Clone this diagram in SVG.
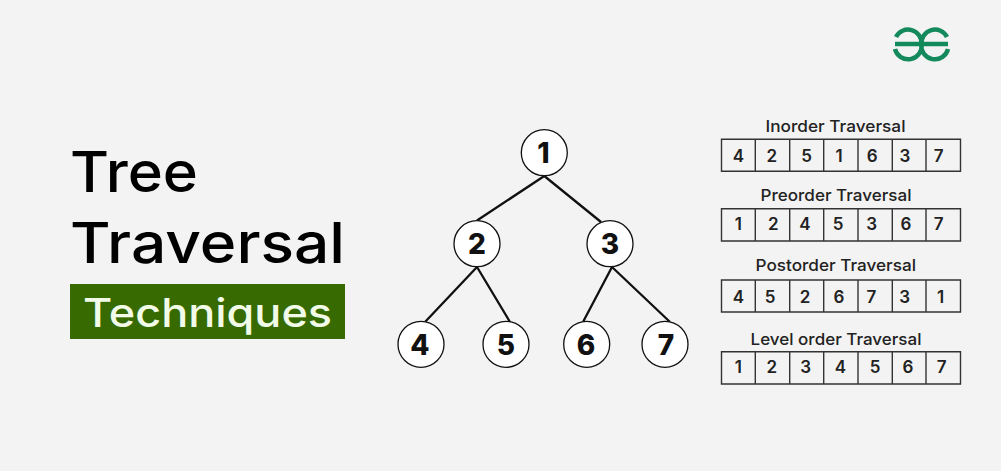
<svg xmlns="http://www.w3.org/2000/svg" width="1001" height="471" viewBox="0 0 1001 471">
<style>
.title{font-family:"Inter","Liberation Sans",sans-serif;font-weight:500;fill:#000}
.cap{font-family:"Inter","Liberation Sans",sans-serif;font-size:16.500px;font-weight:500;fill:#222}
.cell{fill:none;stroke:#333;stroke-width:1.400}
.val{font-family:"Inter","Liberation Sans",sans-serif;font-size:17px;font-weight:600;fill:#222;text-anchor:middle}
.node circle{fill:#fff;stroke:#111;stroke-width:1.300}
.node text{font-family:"Inter","Liberation Sans",sans-serif;font-size:28px;font-weight:800;fill:#111;text-anchor:middle}
.edge{stroke:#111;stroke-width:2.300;fill:none}
.logo{stroke:#148a5c;stroke-width:4.500;fill:none}
</style>
<rect width="1001" height="471" fill="#f3f3f3"/>
<g id="logo">
<path class="logo" d="M896 37A13.500 13.500 0 0 1 921.500 44A13.500 13.500 0 0 1 895 49M895 44H948M947 37A13.500 13.500 0 0 0 921.500 44A13.500 13.500 0 0 0 948 49"/>
</g>
<g id="title">
<text class="title" x="70" y="191.500" font-size="56" textLength="128" lengthAdjust="spacingAndGlyphs">Tree</text>
<text class="title" x="70" y="262.500" font-size="56" textLength="275" lengthAdjust="spacingAndGlyphs">Traversal</text>
<rect x="70" y="284" width="275" height="55" fill="#376a00"/>
<text x="83" y="327" font-family="Inter,'Liberation Sans',sans-serif" font-size="40" font-weight="500" fill="#f2fbe8" textLength="249" lengthAdjust="spacingAndGlyphs">Techniques</text>
</g>
<g id="connectors">
<path class="edge" d="M544.300 176L477 220.500M544.300 176L601 222M477 267L425 322M477 267L510 322M612 267L583 322M612 267L670 322"/>
</g>
<g id="n1" class="node"><circle cx="544.300" cy="152.700" r="23"/><text x="543.500" y="162.500">1</text></g>
<g id="n2" class="node"><circle cx="477" cy="243.700" r="23"/><text x="477" y="253.500">2</text></g>
<g id="n3" class="node"><circle cx="610" cy="243.700" r="23"/><text x="610" y="253.500">3</text></g>
<g id="n4" class="node"><circle cx="421" cy="344.300" r="23"/><text x="420" y="354.500">4</text></g>
<g id="n5" class="node"><circle cx="506" cy="344.300" r="23"/><text x="506" y="354.500">5</text></g>
<g id="n6" class="node"><circle cx="586.700" cy="344.300" r="23"/><text x="586" y="354.500">6</text></g>
<g id="n7" class="node"><circle cx="665" cy="344.300" r="23"/><text x="666" y="354.500">7</text></g>
<g id="inorder">
<text class="cap" x="765.500" y="131.500" textLength="140" lengthAdjust="spacingAndGlyphs">Inorder Traversal</text>
<path class="cell" d="M721.500 139.300H960.500V171.300H721.500ZM755.300 139.300V171.300M789.700 139.300V171.300M823.700 139.300V171.300M858 139.300V171.300M892.300 139.300V171.300M926 139.300V171.300"/>
<text class="val" x="738.300" y="161.700">4</text><text class="val" x="771.700" y="161.700">2</text><text class="val" x="806.700" y="161.700">5</text><text class="val" x="839" y="161.700">1</text><text class="val" x="872.300" y="161.700">6</text><text class="val" x="905" y="161.700">3</text><text class="val" x="938.700" y="161.700">7</text>
</g>
<g id="preorder">
<text class="cap" x="760.500" y="200.700" textLength="151" lengthAdjust="spacingAndGlyphs">Preorder Traversal</text>
<path class="cell" d="M721.500 208.700H960.500V241H721.500ZM755.300 208.700V241M789.700 208.700V241M823.700 208.700V241M858 208.700V241M892.300 208.700V241M926 208.700V241"/>
<text class="val" x="738.300" y="230">1</text><text class="val" x="773.300" y="230">2</text><text class="val" x="805" y="230">4</text><text class="val" x="838" y="230">5</text><text class="val" x="871.700" y="230">3</text><text class="val" x="906" y="230">6</text><text class="val" x="938.700" y="230">7</text>
</g>
<g id="postorder">
<text class="cap" x="755.500" y="270.700" textLength="160.500" lengthAdjust="spacingAndGlyphs">Postorder Traversal</text>
<path class="cell" d="M721.500 280H960.500V312H721.500ZM755.300 280V312M789.700 280V312M823.700 280V312M858 280V312M892.300 280V312M926 280V312"/>
<text class="val" x="738.300" y="302.700">4</text><text class="val" x="770" y="302.700">5</text><text class="val" x="805" y="302.700">2</text><text class="val" x="839" y="302.700">6</text><text class="val" x="871.300" y="302.700">7</text><text class="val" x="904.700" y="302.700">3</text><text class="val" x="940.700" y="302.700">1</text>
</g>
<g id="levelorder">
<text class="cap" x="750.500" y="345" textLength="171" lengthAdjust="spacingAndGlyphs">Level order Traversal</text>
<path class="cell" d="M721.500 351.700H960.500V384H721.500ZM755.300 351.700V384M789.700 351.700V384M823.700 351.700V384M858 351.700V384M892.300 351.700V384M926 351.700V384"/>
<text class="val" x="738.300" y="373">1</text><text class="val" x="771.700" y="373">2</text><text class="val" x="805.700" y="373">3</text><text class="val" x="840.300" y="373">4</text><text class="val" x="875" y="373">5</text><text class="val" x="908" y="373">6</text><text class="val" x="941.700" y="373">7</text>
</g>
</svg>
